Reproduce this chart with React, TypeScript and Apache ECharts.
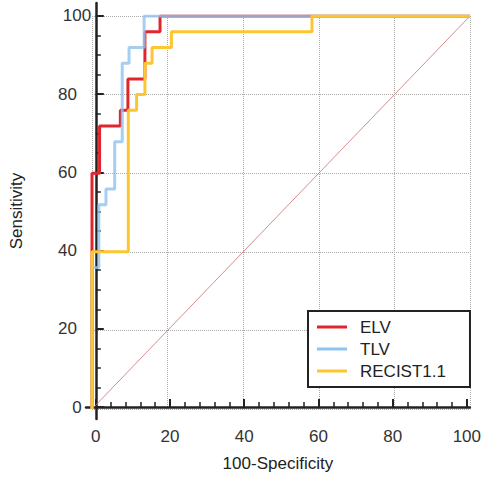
import React, { useEffect, useRef } from "react";
import * as echarts from "echarts";

const seriesNames = ["ELV", "TLV", "RECIST1.1"];
const seriesColors = ["#e0262c", "#8fc2ef", "#fdc52e"];

// ROC step-curve corners: [100-Specificity, Sensitivity]
const elvPoints: number[][] = [
  [0, 0], [0, 60], [2, 60], [2, 72], [7.5, 72], [7.5, 76], [9.5, 76], [9.5, 84],
  [14, 84], [14, 96], [18, 96], [18, 100], [100, 100],
];
const tlvPoints: number[][] = [
  [0, 0], [0, 36], [1.8, 36], [1.8, 52], [3.7, 52], [3.7, 56], [6, 56], [6, 68],
  [8, 68], [8, 88], [9.8, 88], [9.8, 92], [13.8, 92], [13.8, 100], [100, 100],
];
const recistPoints: number[][] = [
  [0, 0], [0, 40], [9.6, 40], [9.6, 76], [11.8, 76], [11.8, 80], [14, 80], [14, 88],
  [15.9, 88], [15.9, 92], [21, 92], [21, 96], [58.2, 96], [58.2, 100], [100, 100],
];
const diagonalPoints: number[][] = [[0, 0], [100, 100]];

const xTitle = "100-Specificity";
const yTitle = "Sensitivity";
const majorTicks = [0, 20, 40, 60, 80, 100];
const xMinorTicks = [4, 8, 12, 16, 24, 28, 32, 36, 44, 48, 52, 56, 64, 68, 72, 76, 84, 88, 92, 96];
const yMinorTicks = [5, 10, 15, 25, 30, 35, 45, 50, 55, 65, 70, 75, 85, 90, 95];

const FONT = "'Liberation Sans', Arial, sans-serif";

// plot area (px) and how far the axis frame sits outside it
const plot = { left: 92, right: 14, top: 16, bottom: 68 };
const xPad = [10, 3]; // left, right extension of the x axis line
const yPad = [12, 13]; // bottom, top extension of the y axis line
const W = 484;
const H = 477;

export default function App() {
  const ref = useRef<HTMLDivElement>(null);
  useEffect(() => {
    if (!ref.current) return;
    const chart = echarts.init(ref.current, null, { renderer: "svg" });
    const plotW = W - plot.left - plot.right;
    const plotH = H - plot.top - plot.bottom;
    const xu = plotW / 100;
    const yu = plotH / 100;
    const xMin2 = -xPad[0] / xu;
    const xMax2 = 100 + xPad[1] / xu;
    const yMin2 = -yPad[0] / yu;
    const yMax2 = 100 + yPad[1] / yu;
    const data = [elvPoints, tlvPoints, recistPoints];
    const opacities = [1, 0.8, 1];
    const hidden = { show: false };
    const option: any = {
      animation: false,
      backgroundColor: "#ffffff",
      grid: [
        { left: plot.left, right: plot.right, top: plot.top, bottom: plot.bottom, containLabel: false },
        {
          left: plot.left - xPad[0],
          right: plot.right - xPad[1],
          top: plot.top - yPad[1],
          bottom: plot.bottom - yPad[0],
          containLabel: false,
        },
      ],
      xAxis: [
        {
          type: "value", gridIndex: 0, min: 0, max: 100, interval: 20,
          axisLine: hidden, axisTick: hidden, axisLabel: hidden,
          splitLine: { show: true, lineStyle: { color: "#aaaaaa", type: "dotted", width: 1 } },
        },
        {
          type: "value", gridIndex: 1, position: "bottom", min: xMin2, max: xMax2,
          name: xTitle, nameLocation: "middle", nameGap: 36,
          nameTextStyle: { fontFamily: FONT, fontSize: 17, color: "#222" },
          axisLine: { show: true, lineStyle: { color: "#222", width: 2.5 } },
          axisTick: { show: true, inside: true, length: 8, customValues: majorTicks, lineStyle: { color: "#222", width: 2 } },
          axisLabel: {
            show: true, customValues: majorTicks, fontFamily: FONT, fontSize: 17, color: "#333", margin: 9,
            alignMinLabel: "center", alignMaxLabel: "center", hideOverlap: false,
          },
          splitLine: hidden,
        },
        {
          type: "value", gridIndex: 1, position: "bottom", min: xMin2, max: xMax2,
          axisLine: hidden,
          axisTick: { show: true, inside: true, length: 5, customValues: xMinorTicks, lineStyle: { color: "#222", width: 1.5 } },
          axisLabel: hidden,
          splitLine: hidden,
        },
      ],
      yAxis: [
        {
          type: "value", gridIndex: 0, min: 0, max: 100, interval: 20,
          axisLine: hidden, axisTick: hidden, axisLabel: hidden,
          splitLine: { show: true, lineStyle: { color: "#aaaaaa", type: "dotted", width: 1 } },
        },
        {
          type: "value", gridIndex: 1, position: "left", min: yMin2, max: yMax2,
          name: yTitle, nameLocation: "middle", nameGap: 61,
          nameTextStyle: { fontFamily: FONT, fontSize: 17, color: "#222" },
          axisLine: { show: true, lineStyle: { color: "#222", width: 2.5 } },
          axisTick: { show: true, inside: true, length: 8, customValues: majorTicks, lineStyle: { color: "#222", width: 2 } },
          axisLabel: {
            show: true, customValues: majorTicks, fontFamily: FONT, fontSize: 17, color: "#333", margin: 9,
            alignMinLabel: "center", alignMaxLabel: "center", hideOverlap: false,
          },
          splitLine: hidden,
        },
        {
          type: "value", gridIndex: 1, position: "left", min: yMin2, max: yMax2,
          axisLine: hidden,
          axisTick: { show: true, inside: true, length: 5, customValues: yMinorTicks, lineStyle: { color: "#222", width: 1.5 } },
          axisLabel: hidden,
          splitLine: hidden,
        },
      ],
      legend: {
        left: 308,
        top: 311,
        orient: "vertical",
        data: seriesNames,
        icon: "rect",
        backgroundColor: "#ffffff",
        borderColor: "#222",
        borderWidth: 2,
        borderRadius: 0,
        padding: [6, 24, 6, 9],
        itemWidth: 30,
        itemHeight: 3,
        itemGap: 2,
        textStyle: { fontFamily: FONT, fontSize: 17, color: "#222", lineHeight: 20, padding: [0, 0, 0, 8] },
      },
      series: [
        {
          name: "diag",
          type: "line",
          xAxisIndex: 0,
          yAxisIndex: 0,
          data: diagonalPoints,
          symbol: "none",
          silent: true,
          lineStyle: { color: "#c87070", width: 1, opacity: 0.8 },
          z: 1,
        },
        ...seriesNames.map((n, i) => ({
          name: n,
          type: "line",
          xAxisIndex: 0,
          yAxisIndex: 0,
          data: data[i],
          symbol: "none",
          color: seriesColors[i],
          itemStyle: { color: seriesColors[i] },
          lineStyle: { color: seriesColors[i], width: 3, opacity: opacities[i] },
          z: 2 + i,
        })),
      ],
    };
    chart.setOption(option);
    return () => chart.dispose();
  }, []);
  return (
    <div
      ref={ref}
      style={{ position: "fixed", left: 0, top: 0, width: W, height: H, background: "#fff" }}
    />
  );
}
